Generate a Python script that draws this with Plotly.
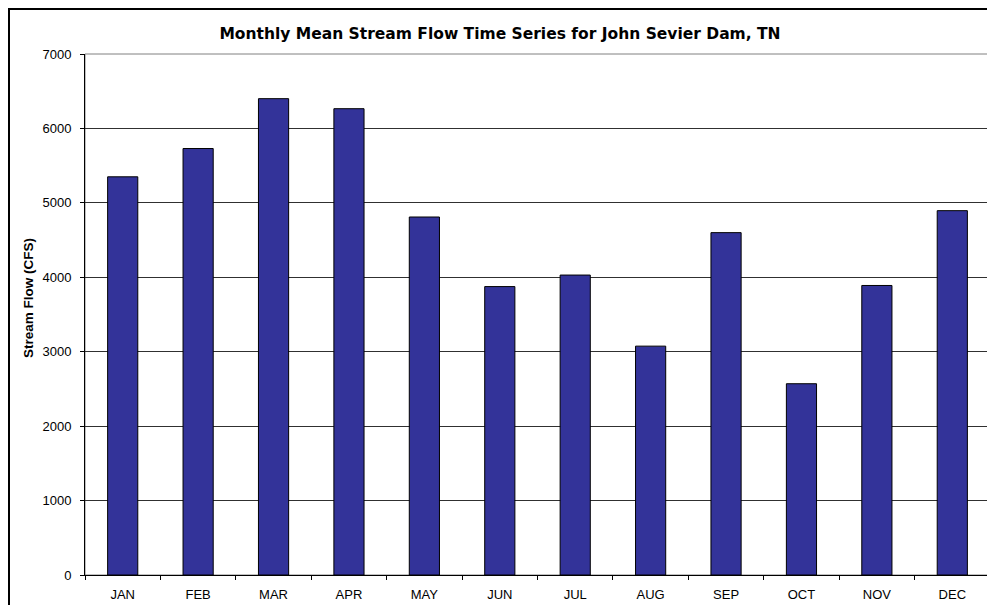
import plotly.graph_objects as go

months = ["JAN", "FEB", "MAR", "APR", "MAY", "JUN", "JUL", "AUG", "SEP", "OCT", "NOV", "DEC"]
flow_cfs = [5350, 5730, 6400, 6265, 4810, 3875, 4030, 3075, 4600, 2570, 3890, 4895]
y_ticks = [0, 1000, 2000, 3000, 4000, 5000, 6000, 7000]

FONT = "Liberation Sans, Arial, sans-serif"
TITLE_FONT = "DejaVu Sans, Verdana, sans-serif"

fig = go.Figure(
    go.Bar(
        x=months,
        y=flow_cfs,
        marker=dict(color="#333399", line=dict(color="black", width=1)),
        width=0.4,
    )
)

# page body has an 8px default margin; size the figure so the page fits the window exactly
OFF = 8
W, H = 995 - OFF, 605 - OFF
L, R, T, B = 85 - OFF, 995 - 990, 54 - OFF, 605 - 575
pw, ph = W - L - R, H - T - B

fig.update_layout(
    width=W,
    height=H,
    margin=dict(l=L, r=R, t=T, b=B, autoexpand=False),
    paper_bgcolor="white",
    plot_bgcolor="white",
    showlegend=False,
    font=dict(family=FONT, size=13, color="black"),
    title=dict(
        text="<b>Monthly Mean Stream Flow Time Series for John Sevier Dam, TN</b>",
        x=(500 - OFF) / W,
        xref="container",
        xanchor="center",
        y=1 - (34 - OFF) / H,
        yref="container",
        yanchor="middle",
        font=dict(family=TITLE_FONT, size=15.5, color="black"),
    ),
    xaxis=dict(
        type="category",
        automargin=False,
        showline=True,
        linecolor="black",
        linewidth=1,
        ticks="outside",
        tickson="boundaries",
        ticklen=4,
        tickcolor="black",
        showgrid=False,
        ticklabelstandoff=7,
        tickfont=dict(family=FONT, size=13, color="black"),
    ),
    yaxis=dict(
        range=[0, 7000],
        automargin=False,
        tickvals=y_ticks,
        showline=True,
        linecolor="black",
        linewidth=1,
        ticks="outside",
        ticklen=4,
        tickcolor="black",
        showgrid=True,
        gridcolor="#303030",
        gridwidth=1,
        zeroline=False,
        ticklabelstandoff=6,
        tickfont=dict(family=FONT, size=13, color="black"),
    ),
    annotations=[
        dict(
            text="<b>Stream Flow (CFS)</b>",
            xref="paper", yref="paper",
            x=(28 - 85) / pw, y=(575 - 298) / ph,
            xanchor="center", yanchor="middle",
            textangle=-90, showarrow=False,
            font=dict(family=FONT, size=13.5, color="black"),
        )
    ],
    shapes=[
        # plot-area frame (gray top/right)
        dict(type="rect", xref="paper", yref="paper", x0=0, x1=1, y0=0, y1=1,
             line=dict(color="#808080", width=1), layer="below"),
        # outer chart border (top and left visible)
        dict(type="rect", xref="paper", yref="paper",
             x0=(9 - 85) / pw, x1=(1020 - 85) / pw,
             y0=-(640 - 575) / ph, y1=1 + (54 - 9) / ph,
             line=dict(color="black", width=2), layer="below"),
    ],
)

fig.write_html("out.html")
